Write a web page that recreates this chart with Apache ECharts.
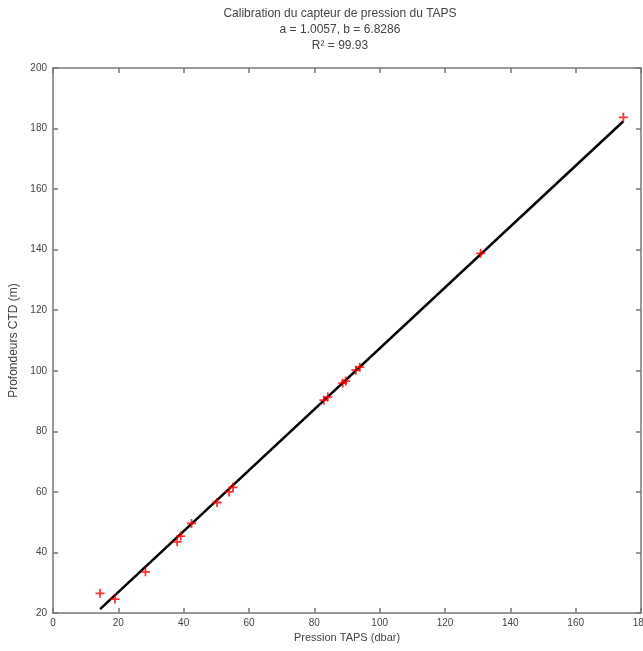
<!DOCTYPE html>
<html><head><meta charset="utf-8">
<script src="https://cdn.jsdelivr.net/npm/echarts@6/dist/echarts.min.js"></script>
<style>html,body{margin:0;padding:0;background:#fff}#c{width:643px;height:651px}</style>
</head><body><div id="c"></div>
<script>
// Measured points (Pression TAPS dbar, Profondeur CTD m)
const pressionTAPS = [14.4, 19.0, 28.3, 38.0, 39.1, 42.4, 50.2, 53.9, 55.1, 82.9, 84.1, 88.7, 89.6, 92.7, 93.9, 130.9, 174.6];
const profondeurCTD = [26.5, 24.6, 33.6, 43.5, 45.4, 49.6, 56.5, 60.0, 61.5, 90.3, 91.3, 95.9, 96.6, 100.2, 101.2, 138.8, 183.7];
// Fitted line end points
const fitX = [14.4, 174.6];
const fitY = [21.3, 182.4];
const xTicks = [0, 20, 40, 60, 80, 100, 120, 140, 160, 180];
const yTicks = [20, 40, 60, 80, 100, 120, 140, 160, 180, 200];
const titleLines = ['Calibration du capteur de pression du TAPS', 'a = 1.0057, b = 6.8286', 'R² = 99.93'];

const chart = echarts.init(document.getElementById('c'), null, {renderer: 'canvas'});
const axisCol = '#777';
const txtCol = '#444';
const font = 'Liberation Sans, Arial, sans-serif';
const common = {
  axisLine: {show: true, onZero: false, lineStyle: {color: axisCol, width: 1.5}},
  axisTick: {show: true, inside: true, length: 5, lineStyle: {color: axisCol, width: 1.5}},
  splitLine: {show: false}
};
chart.setOption({
  animation: false,
  backgroundColor: '#fff',
  title: {
    text: titleLines.join('\n'),
    left: 335, top: 1, textAlign: 'center',
    textStyle: {fontSize: 12, fontWeight: 'normal', color: txtCol, fontFamily: font, lineHeight: 16}
  },
  grid: {left: 53, top: 68, right: 2, bottom: 38, outerBoundsMode: 'none', containLabel: false},
  xAxis: [
    Object.assign({type: 'value', position: 'bottom', min: 0, max: 180, interval: 20,
      name: 'Pression TAPS (dbar)', nameLocation: 'middle', nameGap: 14,
      nameTextStyle: {fontSize: 11, color: txtCol, fontFamily: font},
      axisLabel: {fontSize: 10, color: txtCol, fontFamily: font, margin: 5, showMaxLabel: true}}, common),
    Object.assign({type: 'value', position: 'top', min: 0, max: 180, interval: 20,
      axisLabel: {show: false}}, common)
  ],
  yAxis: [
    Object.assign({type: 'value', position: 'left', min: 20, max: 200, interval: 20,
      name: 'Profondeurs CTD (m)', nameLocation: 'middle', nameGap: 24,
      nameTextStyle: {fontSize: 12, color: txtCol, fontFamily: font},
      axisLabel: {fontSize: 10, color: txtCol, fontFamily: font, margin: 6}}, common),
    Object.assign({type: 'value', position: 'right', min: 20, max: 200, interval: 20,
      axisLabel: {show: false}}, common)
  ],
  series: [
    {type: 'line', data: fitX.map((x, i) => [x, fitY[i]]), showSymbol: false, symbol: 'none',
      lineStyle: {color: '#000', width: 2.5}, z: 2},
    {type: 'scatter', data: pressionTAPS.map((x, i) => [x, profondeurCTD[i]]),
      symbol: 'path://M4,0h2v4h4v2h-4v4h-2v-4h-4v-2h4z', symbolSize: 9,
      itemStyle: {color: '#ff0000'}, z: 3}
  ]
});
</script></body></html>
